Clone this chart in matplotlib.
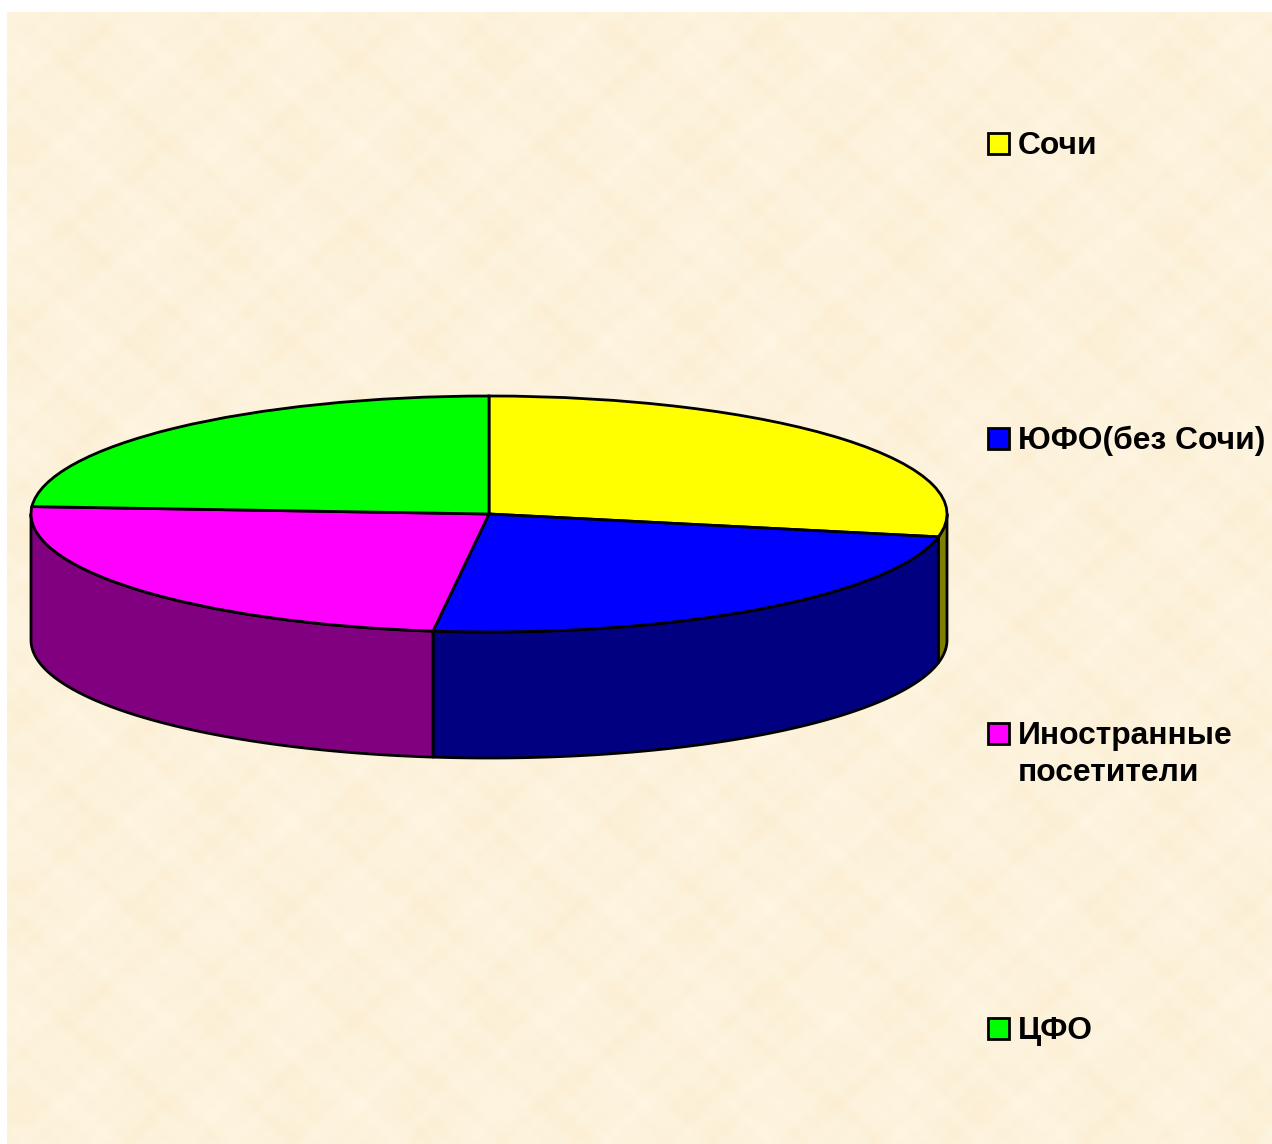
import matplotlib
matplotlib.use('Agg')

import matplotlib.pyplot as plt
from matplotlib.patches import Rectangle
import numpy as np

W, H = 1272, 1144

# данные диаграммы
labels = ['Сочи', 'ЮФО(без Сочи)', 'Иностранные\nпосетители', 'ЦФО']
shares = [28.1, 23.85, 24.05, 24.0]
colors = ['#FFFF00', '#0000FF', '#FF00FF', '#00FF00']
side_colors = ['#808000', '#000080', '#800080', '#008000']

# положение диска в пикселях
cx, cy, rx, ry, depth = 489, 514, 458, 118, 126
legend_x, legend_y0, legend_step, box = 988, 133, 295, 21

plt.rcParams['font.family'] = 'Liberation Sans'

fig = plt.figure(figsize=(W / 100, H / 100), dpi=100, facecolor='white')

# фон: бумажная текстура на всю картинку, кроме белой полосы слева и сверху
bg = fig.add_axes([0, 0, 1, 1])
bg.set_xlim(0, W)
bg.set_ylim(H, 0)
bg.axis('off')

yy, xx = np.mgrid[0:H - 12:4, 0:W - 7:4]
p = 2 * np.pi / 960
tex = (np.sin(p * 7 * xx + 1.3) * np.sin(p * 5 * yy + 0.4)
       + 0.9 * np.sin(p * 13 * xx + 0.2) * np.sin(p * 17 * yy + 2.6)
       + 0.8 * np.sin(p * 23 * xx - 0.5) * np.sin(p * 29 * yy + 2.1)
       + 0.7 * np.sin(p * 41 * xx + 0.9) * np.sin(p * 37 * yy + 1.1)
       + 0.5 * np.sin(p * 67 * xx + 2.2) * np.sin(p * 59 * yy + 0.7))
tex = tex / np.abs(tex).max()
base = np.array([253, 242, 219]) / 255
amp = np.array([2, 5, 10]) / 255
img = np.clip(base[None, None, :] + tex[:, :, None] * amp[None, None, :], 0, 1)
bg.imshow(img, extent=(7, W, H, 12), aspect='auto', interpolation='bicubic', zorder=0)
bg.set_xlim(0, W)
bg.set_ylim(H, 0)

# диск: единичный круг, сжатый размером осей
ax = fig.add_axes([0, 0, 1, 1], facecolor='none')
ax.pie(shares, colors=colors, startangle=90, counterclock=False, radius=1,
       wedgeprops=dict(edgecolor='black', linewidth=2, zorder=3))
ax.set_aspect('auto')
ax.set_xlim(-cx / rx, (W - cx) / rx)
ax.set_ylim((cy - H) / ry, cy / ry)
ax.axis('off')

# боковая стенка видна только в нижней половине круга
h = depth / ry
edges = 90 - np.cumsum([0] + shares) * 3.6
for start, end, col in zip(edges[:-1], edges[1:], side_colors):
    a = (start + 180) % 360 - 180
    b = a - (start - end)
    lo, hi = max(b, -180), min(a, 0)
    if hi <= lo:
        continue
    t = np.radians(np.linspace(hi, lo, 120))
    xs = np.r_[np.cos(t), np.cos(t)[::-1]]
    ys = np.r_[np.sin(t), np.sin(t)[::-1] - h]
    ax.fill(xs, ys, facecolor=col, edgecolor='black', linewidth=2,
            joinstyle='round', zorder=1)

# легенда
for i, (label, col) in enumerate(zip(labels, colors)):
    top = legend_y0 + i * legend_step
    bg.add_patch(Rectangle((legend_x, top), box, box, facecolor=col,
                           edgecolor='black', linewidth=2, zorder=2))
    for j, line in enumerate(label.split('\n')):
        bg.text(legend_x + 30, top + box + j * 37, line, fontsize=22.9,
                fontweight='bold', color='black', ha='left', va='baseline', zorder=2)

fig.savefig('out.png', dpi=100, facecolor='white')
